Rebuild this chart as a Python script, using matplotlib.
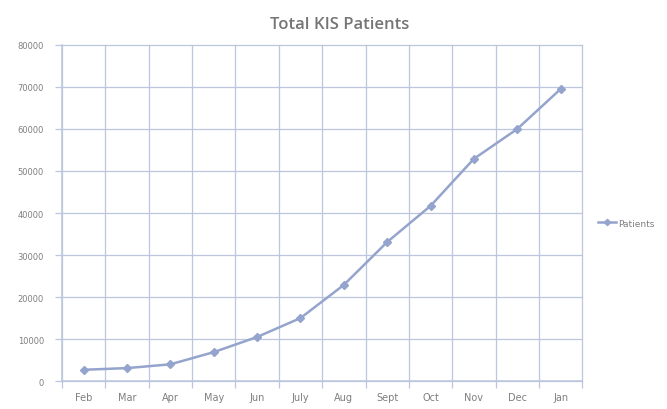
import numpy as np
import matplotlib.pyplot as plt

months = ["Feb", "Mar", "Apr", "May", "Jun", "July", "Aug", "Sept", "Oct", "Nov", "Dec", "Jan"]
patients = [2700, 3100, 4000, 6900, 10500, 15000, 22900, 33100, 41700, 52900, 60000, 69500]
y_ticks = [0, 10000, 20000, 30000, 40000, 50000, 60000, 70000, 80000]

grid_color = "#bcc6de"
line_color = "#95a4cc"
text_color = "#7f7f7f"

fig = plt.figure(figsize=(6.67, 4.10), dpi=100)
ax = fig.add_axes([0.093, 0.068, 0.780, 0.820])

x = np.arange(len(months))
ax.plot(x, patients, color=line_color, linewidth=1.8, marker="D", markersize=4,
        label="Patients")

ax.set_xlim(-0.5, len(months) - 0.5)
ax.set_ylim(0, 80000)
ax.set_yticks(y_ticks)
ax.set_yticklabels([str(v) for v in y_ticks])

# gridlines between categories
ax.set_xticks(np.arange(-0.5, len(months), 1.0), minor=False)
ax.set_xticklabels([])
ax.set_xticks(x, minor=True)
ax.set_xticklabels(months, minor=True)
ax.tick_params(axis="x", which="minor", length=0, pad=8, labelsize=7, labelcolor=text_color)
ax.tick_params(axis="x", which="major", length=5, color=grid_color, width=0.9)
ax.tick_params(axis="y", length=5, color=grid_color, width=0.9, labelsize=6,
               labelcolor=text_color, pad=8)

ax.grid(which="major", axis="both", color=grid_color, linewidth=0.9)
ax.set_axisbelow(True)
for side in ["top", "right"]:
    ax.spines[side].set_visible(False)
for side in ["left", "bottom"]:
    ax.spines[side].set_color(grid_color)
    ax.spines[side].set_linewidth(1.1)
for gl in ax.get_xgridlines() + ax.get_ygridlines():
    gl.set_clip_on(False)

fig.text(0.51, 0.94, "Total KIS Patients", ha="center", va="center",
         fontsize=12, color="#757575", fontweight="semibold", family="Open Sans")

leg = ax.legend(loc="center left", bbox_to_anchor=(1.015, 0.47), frameon=False,
                fontsize=6.5, handlelength=2, handletextpad=0.2, markerscale=0.8)
for t in leg.get_texts():
    t.set_color(text_color)

fig.savefig("out.png", dpi=100)
